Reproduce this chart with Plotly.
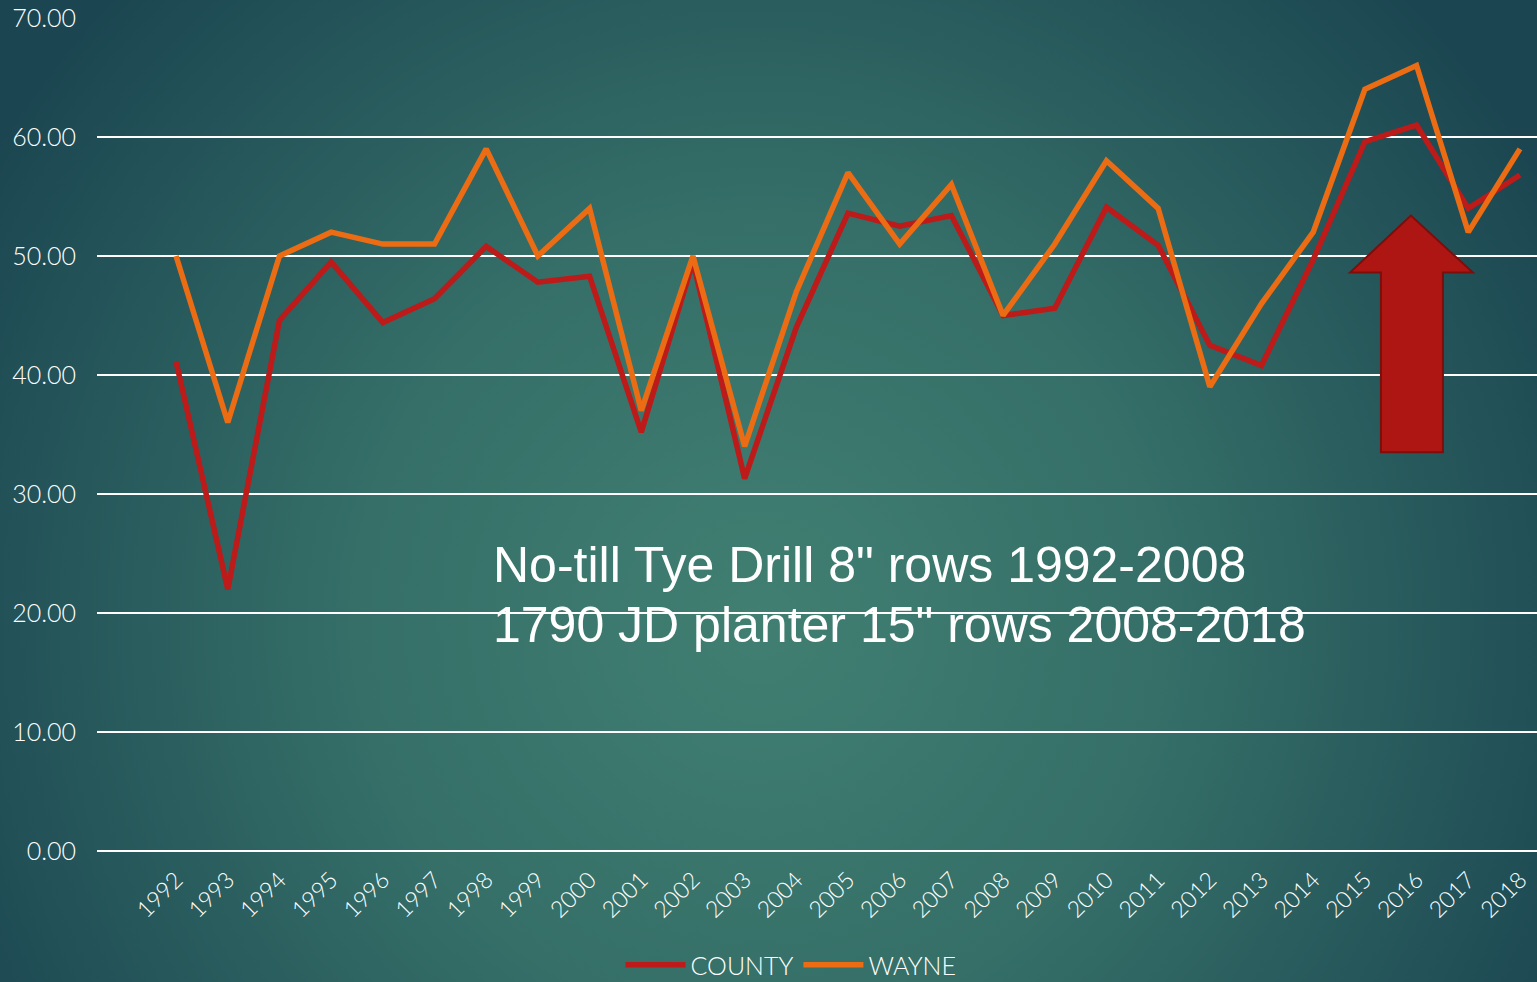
import plotly.graph_objects as go

# Yield by year
years = list(range(1992, 2019))
county = [41.1, 22.0, 44.6, 49.5, 44.4, 46.4, 50.8, 47.8, 48.3, 35.2, 49.5, 31.3, 44.0,
          53.6, 52.5, 53.4, 45.0, 45.6, 54.1, 50.9, 42.5, 40.8, 49.7, 59.6, 61.0, 54.0, 56.8]
wayne = [50.0, 36.0, 50.0, 52.0, 51.0, 51.0, 59.0, 50.0, 54.0, 37.0, 50.0, 34.0, 47.0,
         57.0, 51.0, 56.0, 45.0, 51.0, 58.0, 54.0, 39.0, 46.0, 52.0, 64.0, 66.0, 52.0, 59.0]
y_ticks = [0, 10, 20, 30, 40, 50, 60, 70]
note_lines = ['No-till Tye Drill 8" rows 1992-2008', '1790 JD planter 15" rows 2008-2018']

W, H = 1537, 982
L, R, T, B = 97, 0, 17, 129
pw, ph = W - L - R, H - T - B

bg_svg = (
    "data:image/svg+xml;utf8,"
    "<svg xmlns='http://www.w3.org/2000/svg' width='1537' height='982' viewBox='0 0 1537 982'>"
    "<defs><radialGradient id='g' cx='760' cy='620' r='900' gradientUnits='userSpaceOnUse'>"
    "<stop offset='0' stop-color='%23417f72'/>"
    "<stop offset='0.45' stop-color='%23356f68'/>"
    "<stop offset='1' stop-color='%231b4651'/>"
    "</radialGradient></defs>"
    "<rect width='1537' height='982' fill='url(%23g)'/></svg>"
)

light_font = "Lato, 'Open Sans', sans-serif"

fig = go.Figure()
fig.add_trace(go.Scatter(x=years, y=county, mode="lines", name="COUNTY",
                         line=dict(color="#bd1a1a", width=5.5)))
fig.add_trace(go.Scatter(x=years, y=wayne, mode="lines", name="WAYNE",
                         line=dict(color="#ec6c14", width=5.5)))

# Upward arrow
fig.add_shape(type="path",
              path="M 2014.71,48.6 L 2015.89,53.4 L 2017.09,48.6 L 2016.51,48.6 "
                   "L 2016.51,33.5 L 2015.31,33.5 L 2015.31,48.6 Z",
              xref="x", yref="y", fillcolor="#ad1613",
              line=dict(color="#7c0e0c", width=2), layer="above")

for txt, yv in zip(note_lines, [24.0, 19.0]):
    fig.add_annotation(x=1998.1, y=yv, xref="x", yref="y", text=txt, showarrow=False,
                       xanchor="left", yanchor="middle",
                       font=dict(family="'Liberation Sans', Arial, sans-serif", size=50, color="white"))

fig.add_layout_image(dict(source=bg_svg, xref="paper", yref="paper",
                          x=-L / pw, y=1 + T / ph, sizex=W / pw, sizey=H / ph,
                          xanchor="left", yanchor="top", sizing="stretch", layer="below"))

fig.update_layout(
    width=W, height=H,
    margin=dict(l=L, r=R, t=T, b=B, autoexpand=False),
    paper_bgcolor="#1e4c54",
    plot_bgcolor="rgba(0,0,0,0)",
    showlegend=True,
    legend=dict(orientation="h", x=(791 - L) / pw, xanchor="center",
                y=-(B + 6) / ph, yanchor="bottom",
                font=dict(family=light_font, size=25, color="white", weight=300),
                bgcolor="rgba(0,0,0,0)", itemwidth=60, tracegroupgap=0),
    xaxis=dict(range=[1990.47, 2018.33], tickmode="array", tickvals=years,
               ticktext=[str(y) for y in years], tickangle=-45, showgrid=False,
               showline=False, zeroline=False,
               tickfont=dict(family=light_font, size=23, color="white", weight=300),
               ticks="", ticklabelstandoff=8),
    yaxis=dict(range=[-0.17, 70.08], tickmode="array", tickvals=y_ticks,
               ticktext=[f"{v:.2f}" for v in y_ticks], showgrid=True, gridcolor="white",
               gridwidth=2, zeroline=False, showline=False, ticks="",
               tickfont=dict(family=light_font, size=25, color="white", weight=300),
               ticklabelstandoff=20),
)

fig.write_html("out.html")
